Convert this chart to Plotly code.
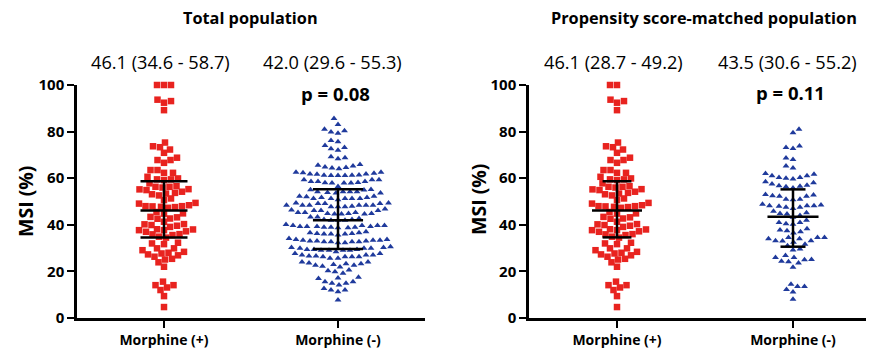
import plotly.graph_objects as go

# ---------------- data ----------------
categories = ["Morphine (+)", "Morphine (-)"]
panel_titles = ["Total population", "Propensity score-matched population"]
stat_labels = [["46.1 (34.6 - 58.7)", "42.0 (29.6 - 55.3)"],
               ["46.1 (28.7 - 49.2)", "43.5 (30.6 - 55.2)"]]
p_labels = ["p = 0.08", "p = 0.11"]
y_ticks = [0, 20, 40, 60, 80, 100]

total_pos = [100, 100, 100, 93.1, 92.4, 93.7, 89.2, 75.3, 73.7, 73.3, 72.3, 70.9,
             67.8, 66.6, 67.8, 68.8, 63.5, 62.3, 62.3, 63.5, 60.6, 59.2, 59.9, 59.5, 59.5,
             55.3, 56.6, 56.3, 56.0, 56.3, 57.8, 55.2, 54.9, 53.4, 53.1, 52.6, 53.7, 54.2,
             51.3, 50.6, 49.4, 48.0, 47.3, 48.4, 47.6, 49.1, 48.0, 47.7, 47.9,
             44.9, 44.8, 45.5, 43.4, 42.7, 42.6, 43.2, 40.3, 39.9, 39.1, 39.6, 40.2, 41.3,
             37.7, 38.0, 38.1, 37.0, 37.2, 37.7, 35.6, 36.0, 34.9, 35.9, 34.5,
             32.3, 32.0, 31.7, 29.9, 29.1, 28.4, 29.9, 28.0, 26.9, 26.3, 25.1, 25.4, 27.3, 27.7,
             23.9, 22.0, 14.1, 13.1, 12.0, 14.1, 15.6, 9.4, 4.7]

total_neg = [85.6, 83.1, 81.0, 80.4, 79.8, 79.3, 76.2, 75.6, 74.0, 73.2, 72.6, 72.0,
             69.2, 68.8, 68.4, 65.6, 64.8, 64.4, 64.1, 64.6, 65.2, 65.9,
             62.6, 62.3, 61.8, 61.4, 61.2, 61.3, 61.2, 61.3, 61.2, 61.7, 61.8, 62.1, 62.6,
             59.3, 58.2, 59.3, 57.9, 58.6, 57.9, 58.0, 58.6, 57.9, 58.6, 59.3,
             54.9, 55.2, 54.2, 54.2, 53.6, 54.2, 53.9, 54.2, 53.6, 55.0, 56.4,
             52.3, 51.3, 51.3, 51.7, 51.3, 50.8, 51.7, 51.3, 52.0, 51.3, 52.3,
             49.4, 49.1, 48.4, 47.7, 48.4, 48.4, 47.7, 48.4, 49.1, 48.0, 48.4, 47.7, 48.4, 49.1, 49.4,
             46.3, 46.1, 44.9, 45.3, 44.6, 45.3, 44.9, 44.9, 44.6, 45.3, 44.6, 46.1, 46.1, 46.8,
             43.4, 42.3, 42.0, 42.0, 42.0, 42.3, 42.7, 43.4,
             39.7, 39.3, 39.7, 38.7, 39.0, 39.3, 39.0, 38.7, 39.0, 39.3, 39.7, 39.3, 39.7, 40.1,
             36.6, 36.3, 36.0, 35.6, 36.0, 36.3, 36.6, 36.0, 37.0,
             33.4, 33.7, 33.1, 32.7, 32.7, 32.3, 33.1, 32.7, 32.3, 32.7, 33.1, 33.4, 33.4, 33.7, 34.1,
             29.9, 29.1, 30.3, 29.1, 29.4, 29.1, 28.4, 29.4, 29.1, 29.9, 30.3, 29.4, 29.9, 30.6,
             27.7, 27.0, 26.3, 25.6, 26.6, 25.6, 26.3, 26.3, 27.0, 26.3, 26.6, 27.0, 27.7,
             24.0, 23.3, 22.6, 21.9, 23.0, 22.2, 23.3, 22.6, 23.6, 24.0,
             20.6, 19.2, 20.3, 19.9, 17.2, 16.9, 17.5, 14.9, 15.6, 14.2, 14.9, 15.6,
             12.7, 12.0, 11.3, 12.0, 7.7]

psm_pos = [100, 100, 93.1, 92.4, 93.7, 89.2, 75.3, 73.7, 73.3, 72.3, 70.9,
           67.8, 66.6, 67.8, 68.8, 63.5, 62.3, 62.3, 63.5, 60.6, 59.2, 59.9, 59.5, 59.5,
           55.3, 56.6, 56.3, 56.0, 56.3, 57.8, 55.2, 54.9, 53.4, 53.1, 52.6, 53.7, 54.2,
           51.3, 50.6, 49.4, 48.0, 47.3, 48.4, 47.6, 49.1, 48.0, 47.7, 47.9,
           44.9, 44.8, 45.5, 43.4, 42.7, 42.6, 43.2, 40.3, 39.9, 39.1, 39.6, 40.2, 41.3,
           37.7, 38.0, 38.1, 37.0, 37.2, 37.7, 35.6, 36.0, 34.9, 35.9, 34.5,
           32.3, 32.0, 31.7, 29.9, 29.1, 28.4, 29.9, 28.0, 26.9, 26.3, 25.1, 25.4, 27.3, 27.7,
           23.9, 22.0, 14.1, 13.1, 12.0, 14.1, 15.6, 9.4, 4.7]

psm_neg = [81.0, 79.5, 73.8, 72.8, 73.2, 68.7, 68.0, 64.4, 65.2,
           62.0, 61.0, 60.3, 59.7, 60.0, 60.3, 61.0, 61.7,
           57.5, 57.0, 56.5, 58.5, 58.0, 55.8, 56.3, 56.8,
           53.0, 52.2, 52.8, 52.2, 51.0, 51.0, 50.7, 52.5,
           48.5, 48.2, 47.5, 47.0, 47.5, 48.2, 48.8, 48.0, 48.2,
           44.8, 45.2, 44.6, 44.0, 45.8, 43.2,
           40.2, 41.0, 42.0, 41.0, 40.5,
           37.5, 37.8, 36.5, 37.0, 38.3,
           34.5, 34.0, 33.2, 32.5, 33.2, 33.0, 34.0, 34.5, 34.5,
           31.0, 29.6, 31.6,
           26.8, 26.0, 25.0, 23.6, 21.8, 24.1, 24.4, 25.1, 26.0, 29.2,
           14.5, 13.5, 11.2, 12.2, 13.5, 8.0]

# drawn summary lines: median, lower, upper
stats_median = [[46.1, 42.0], [46.1, 43.5]]
stats_low = [[34.6, 29.6], [34.6, 30.6]]
stats_high = [[58.7, 55.3], [58.7, 55.2]]

panels = [[total_pos, total_neg], [psm_pos, psm_neg]]

# ---------------- styling / layout ----------------
W, H = 874, 349
OFF = 8  # page body margin of the browser: the figure starts at (8, 8)
FONT = "Open Sans"
RED = "#e8231f"
BLUE = "#1f3a9c"
x_dom_px = [(77 - OFF, 425 - OFF), (529 - OFF, W)]
x_ranges = [(-0.5, 1.5), (-0.5, -0.5 + (W - (529 - OFF)) / 176.0)]
y_dom_px = (318 - OFF, 85 - OFF)  # pixel rows of y=0 and y=100
median_half = [[0.135, 0.144], [0.142, 0.145]]
cap_half = [[0.135, 0.144], [0.082, 0.071]]


def swarm(values, px_per_x, px_per_y, d):
    order = sorted(range(len(values)), key=lambda i: values[i])
    placed = []
    xs = [0.0] * len(values)
    for k, i in enumerate(order):
        y = values[i] * px_per_y
        found = None
        step = 0
        while found is None:
            cands = [0.0] if step == 0 else ([step * 0.5, -step * 0.5] if k % 2 else [-step * 0.5, step * 0.5])
            for c in cands:
                if all((c - px) ** 2 + (y - py) ** 2 >= d * d for px, py in placed):
                    found = c
                    break
            step += 1
        placed.append((found, y))
        xs[i] = found / px_per_x
    return xs


fig = go.Figure()
px_per_y = (y_dom_px[0] - y_dom_px[1]) / 100.0
for p in range(2):
    xa = "x" if p == 0 else "x2"
    ya = "y" if p == 0 else "y2"
    px_per_x = (x_dom_px[p][1] - x_dom_px[p][0]) / (x_ranges[p][1] - x_ranges[p][0])
    for c in range(2):
        vals = panels[p][c]
        offs = swarm(vals, px_per_x, px_per_y, 6.8)
        fig.add_trace(go.Scatter(
            x=[c + o for o in offs], y=vals, mode="markers", xaxis=xa, yaxis=ya,
            marker=dict(symbol="square" if c == 0 else "triangle-up",
                        size=6.5 if c == 0 else 6, color=RED if c == 0 else BLUE,
                        line=dict(width=0)),
            cliponaxis=False, showlegend=False, hoverinfo="y"))
    for c in range(2):
        mh, ch = median_half[p][c], cap_half[p][c]
        lo, md, hi = stats_low[p][c], stats_median[p][c], stats_high[p][c]
        fig.add_trace(go.Scatter(
            x=[c - mh, c + mh, None, c - ch, c + ch, None, c - ch, c + ch, None, c, c],
            y=[md, md, None, lo, lo, None, hi, hi, None, lo, hi],
            mode="lines", line=dict(color="black", width=2.5), xaxis=xa, yaxis=ya,
            cliponaxis=False, showlegend=False, hoverinfo="skip"))

ydom = [1 - y_dom_px[0] / H, 1 - y_dom_px[1] / H]
axis_common = dict(showgrid=False, zeroline=False, showline=True, linecolor="black",
                   linewidth=2.5, ticks="outside", ticklen=7, tickwidth=2, tickcolor="black",
                   automargin=False)
for p in range(2):
    sfx = "" if p == 0 else "2"
    fig.layout["xaxis" + sfx] = dict(
        axis_common, domain=[x_dom_px[p][0] / W, x_dom_px[p][1] / W], range=list(x_ranges[p]),
        tickvals=[0, 1], ticktext=categories, anchor="y" + sfx,
        tickfont=dict(family=FONT, size=14, color="black", weight="bold"))
    fig.layout["yaxis" + sfx] = dict(
        axis_common, domain=ydom, range=[0, 100], tickvals=y_ticks, anchor="x" + sfx,
        tickfont=dict(family=FONT, size=15, color="black", weight="bold"))

ann = []
def add_text(txt, xp, yp, size, bold=False, angle=0):
    ann.append(dict(text=txt, x=(xp - OFF) / W, y=1 - (yp - OFF) / H, xref="paper", yref="paper",
                    xanchor="center", yanchor="middle", showarrow=False, textangle=angle,
                    borderpad=0,
                    font=dict(family=FONT, size=size, color="black",
                              weight="bold" if bold else "normal")))

add_text(panel_titles[0], 250, 18, 16.3, True)
add_text(panel_titles[1], 704, 18, 16.3, True)
add_text(stat_labels[0][0], 160, 62, 18.2)
add_text(stat_labels[0][1], 332.5, 62, 18.2)
add_text(stat_labels[1][0], 613, 62, 18.2)
add_text(stat_labels[1][1], 787, 62, 18.2)
add_text(p_labels[0], 335, 94, 18.5, True)
add_text(p_labels[1], 790, 93, 18.5, True)
add_text("MSI (%)", 25, 202, 19.5, True, -90)
add_text("MSI (%)", 478, 200, 19.5, True, -90)

fig.update_layout(width=W, height=H, margin=dict(l=0, r=0, t=0, b=0),
                  plot_bgcolor="white", paper_bgcolor="white", annotations=ann,
                  font=dict(family=FONT, color="black"))
fig.write_html("out.html")
